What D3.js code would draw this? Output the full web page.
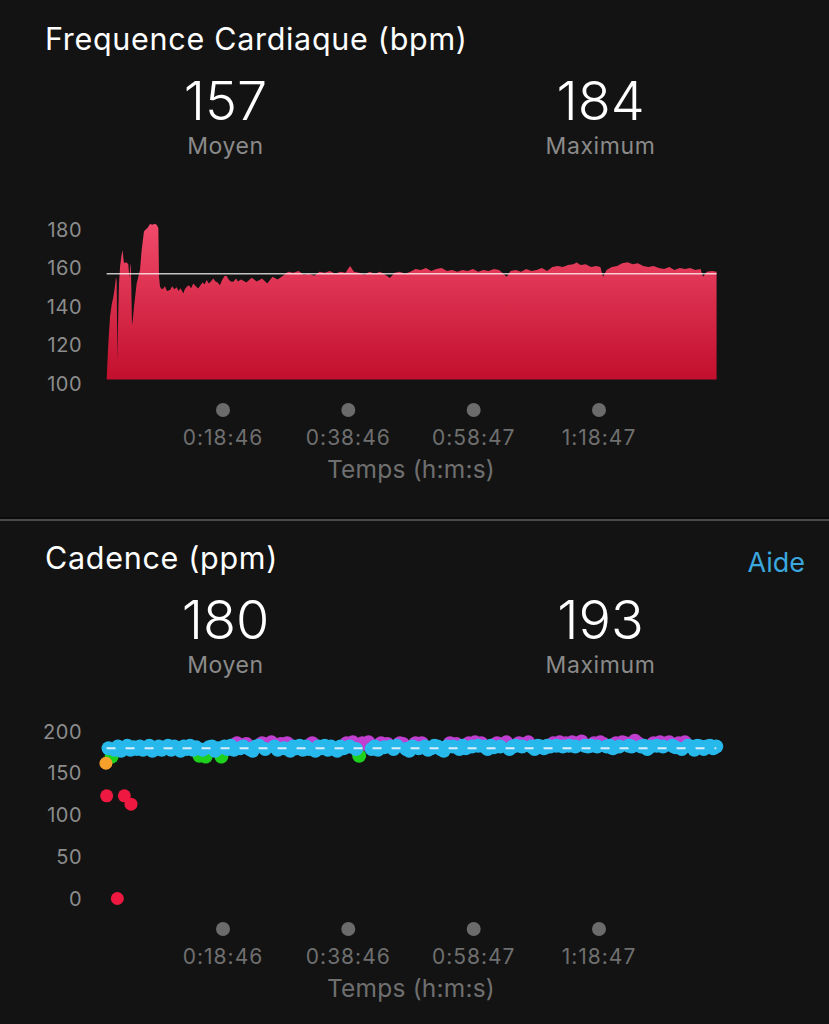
<!DOCTYPE html>
<html><head><meta charset="utf-8">
<script src="https://cdn.jsdelivr.net/npm/d3@7"></script>
<style>html,body{margin:0;padding:0;background:#131313;} svg{display:block;}</style>
</head><body>
<script>
// ---------- DATA ----------
const hrSeconds = [12,20,28,44,60,76,90,101,108,114,120,130,140,152,165,172,178,200,219,229,236,242,248,254,262,274,299,331,347,369,385,401,427,450,470,491,500,507,513,523,
540,554,570,590,618,640,660,683,700,720,746,760,779,800,820,842,865,889,910,930,950,970,990,1010,1033,1055,1075,1097,1115,1140,1161,1180,1200,1225,1250,1270,1289,
1300,1350,1400,1450,1500,1550,1600,1650,1700,1750,1800,1850,1900,1950,2000,2050,2100,2150,2200,2250,2300,2343,2380,2430,2480,2530,2580,2630,2680,2725,2770,2820,2870,2920,2970,3020,3070,3120,3170,3220,3270,3320,3370,3420,3470,3520,3570,3620,3670,3720,3770,3843,3880,3930,3980,4030,4080,4130,4180,4230,4280,4330,4380,4430,4480,4514,4550,4600,4650,4700,4740,4766,4800,4850,4900,4950,5000,5050,5100,5150,5200,5250,5300,5350,5400,5450,5500,5550,5600,5650,5700,5724,5760,5810,5853];
const hrBpm = [101,112,121,134.7,141,145,150,155.3,153,112,130,152,160.7,166,169.4,165,162.6,163,162,154.8,160,162.8,150,130.4,133,140,152,159,169.4,178.9,180,180.6,182.9,182.5,183,182.5,181.5,180.6,155.5,150.3,
149,149.4,150.5,148,148.6,150.5,149,150,148,149.5,146.8,149,150.3,151,149.5,152,150.5,149.4,151,152.5,151.5,153.8,152,153,154.6,153,152.5,151,153.5,155.8,155.8,154,153,152.9,154.5,153,153.8,
154,152.5,155,153,154.5,152,155.5,154,156,158,157.5,158.5,156.5,157,156,158,157.5,158.5,157,158,157.5,161,158,157.5,156.5,158,157,158,156.5,154.8,157.5,158,157,158,159.5,159,160,158.5,159.5,160,158.5,159,158,159,158.5,159.5,158,159,158.5,159.5,159,155.5,158.5,159,158,159.5,158.5,159,160,158.5,160.5,161,160.5,161.5,162,162.8,161.5,162,160.5,161,160.5,155.5,159,160.5,161,162.5,163,162,162.5,161,160.5,161,160,159.5,160.5,159,160,159.5,160,159,159.5,155.5,158,158.5,158];
const hrAverage = 157;
const hrMaximum = 184;
const hrTicks = [100, 120, 140, 160, 180];

const timeTickSeconds = [1126, 2326, 3527, 4727];
const timeTickLabels = ["0:18:46", "0:38:46", "0:58:47", "1:18:47"];

const cadenceSeconds = [30,60,90,120,150,180,210,240,270,300,330,360,390,420,450,480,510,540,570,600,630,660,690,720,750,780,810,840,870,900,930,960,990,1020,1050,1080,1110,1140,1170,1200,1230,1260,1290,1320,1350,1380,1410,1440,1470,1500,1530,1560,1590,1620,1650,1680,1710,1740,1770,1800,1830,1860,1890,1920,1950,1980,2010,2040,2070,2100,2130,2160,2190,2220,2250,2280,2310,2340,2370,2400,2430,2460,2490,2520,2550,2580,2610,2640,2670,2700,2730,2760,2790,2820,2850,2880,2910,2940,2970,3000,3030,3060,3090,3120,3150,3180,3210,3240,3270,3300,3330,3360,3390,3420,3450,3480,3510,3540,3570,3600,3630,3660,3690,3720,3750,3780,3810,3840,3870,3900,3930,3960,3990,4020,4050,4080,4110,4140,4170,4200,4230,4260,4290,4320,4350,4380,4410,4440,4470,4500,4530,4560,4590,4620,4650,4680,4710,4740,4770,4800,4830,4860,4890,4920,4950,4980,5010,5040,5070,5100,5130,5160,5190,5220,5250,5280,5310,5340,5370,5400,5430,5460,5490,5520,5550,5580,5610,5640,5670,5700,5730,5760,5790,5820,5850];
const cadenceValues = [180,170,178,182,177,180,183,178,181,179,
182,178,180,183,177,179,182,178,181,183,
178,182,180,177,182,179,183,178,181,171,
178,170,181,182,177,180,170,182,179,183,
178,186,180,182,185,179,177,182,183,186,
179,185,187,182,178,185,180,186,177,182,
180,183,178,182,179,186,177,182,180,183,
178,182,179,177,182,180,186,182,187,179,
171,186,185,187,179,182,178,186,181,185,
182,179,183,186,185,179,177,182,186,180,
186,182,178,180,183,182,179,177,182,186,
182,185,179,183,180,186,182,187,183,186,
182,179,183,181,186,182,185,187,179,182,
183,186,182,185,187,182,179,183,182,180,
183,182,186,183,187,182,186,183,187,182,
186,188,183,182,183,186,182,187,185,182,
183,180,186,182,187,186,183,182,189,186,
182,183,179,182,186,183,187,182,186,187,
183,181,186,179,187,183,182,178,183,182,
179,182,183,180,182];
const cadenceEarlySeconds = [5, 12, 114, 181, 245];
const cadenceEarlyValues = [162, 123, 0, 123, 113];
const cadenceAverage = 180;
const cadenceMaximum = 193;
const cadenceTicks = [0, 50, 100, 150, 200];

// ---------- DRAW ----------
const W = 829, H = 1024;
const FONT = "Inter, 'Noto Sans', sans-serif";
const svg = d3.select("body").append("svg").attr("width", W).attr("height", H)
  .style("background", "#131313");

const x = d3.scaleLinear().domain([0, 5860]).range([105.43, 717.3]);

function header(g, title, avg, max, aide) {
  g.append("text").attr("x", 45).attr("y", 50).text(title)
    .attr("fill", "#fff").attr("font-family", FONT).attr("font-size", 30.5).attr("letter-spacing", 0.7);
  [[225.5, avg, "Moyen"], [600.5, max, "Maximum"]].forEach(([cx, v, lbl]) => {
    g.append("text").attr("x", cx).attr("y", 120).attr("text-anchor", "middle")
      .attr("fill", "#fff").attr("font-family", FONT).attr("font-size", 54).attr("font-weight", 300).text(v);
    g.append("text").attr("x", cx).attr("y", 154).attr("text-anchor", "middle")
      .attr("fill", "#8a8a8a").attr("font-family", FONT).attr("font-size", 23).attr("letter-spacing", 0.6).text(lbl);
  });
  if (aide) {
    g.append("text").attr("x", 805).attr("y", 53).attr("text-anchor", "end")
      .attr("fill", "#3aa7df").attr("font-family", FONT).attr("font-size", 27).text("Aide");
  }
}

function timeAxis(g) {
  const t = g.selectAll(".tt").data(timeTickSeconds).enter().append("g");
  t.append("circle").attr("cx", d => x(d)).attr("cy", 410).attr("r", 7).attr("fill", "#6b6b6b");
  t.append("text").attr("x", d => x(d)).attr("y", 445).attr("text-anchor", "middle")
    .attr("fill", "#6f6f6f").attr("font-family", FONT).attr("font-size", 21).attr("letter-spacing", 1)
    .text((d, i) => timeTickLabels[i]);
  g.append("text").attr("x", (x(timeTickSeconds[0]) + x(timeTickSeconds[3])) / 2).attr("y", 478)
    .attr("text-anchor", "middle").attr("fill", "#6f6f6f").attr("font-family", FONT)
    .attr("font-size", 24.5).attr("letter-spacing", 0.2).text("Temps (h:m:s)");
}

function yLabels(g, scale, ticks) {
  g.selectAll(".yl").data(ticks).enter().append("text")
    .attr("x", 82).attr("y", d => scale(d)).attr("dy", "0.35em").attr("text-anchor", "end")
    .attr("fill", "#8c8c8c").attr("font-family", FONT).attr("font-size", 20).attr("letter-spacing", 0.5).text(d => d);
}

// ----- Heart rate panel -----
const g1 = svg.append("g");
header(g1, "Frequence Cardiaque (bpm)", hrAverage, hrMaximum, false);
const yHR = d3.scaleLinear().domain([100, 180]).range([383.5, 229.5]);
const plotBottom = 379.5;
yLabels(g1, yHR, hrTicks);

const defs = svg.append("defs");
const grad = defs.append("linearGradient").attr("id", "hrGrad")
  .attr("gradientUnits", "userSpaceOnUse").attr("x1", 0).attr("x2", 0).attr("y1", 222).attr("y2", plotBottom);
grad.append("stop").attr("offset", 0).attr("stop-color", "#f14b6b");
grad.append("stop").attr("offset", 1).attr("stop-color", "#c20f2e");

const hrData = hrSeconds.map((s, i) => ({ s, v: hrBpm[i] }));
const area = d3.area().x(d => x(d.s)).y0(plotBottom).y1(d => Math.min(plotBottom, yHR(d.v)));
g1.append("path").datum(hrData).attr("d", area).attr("fill", "url(#hrGrad)");
g1.append("line").attr("x1", x(hrSeconds[0])).attr("x2", x(hrSeconds[hrSeconds.length - 1]))
  .attr("y1", yHR(hrAverage)).attr("y2", yHR(hrAverage))
  .attr("stroke", "#ffffff").attr("stroke-opacity", 0.75).attr("stroke-width", 1.5);
timeAxis(g1);

// separator
svg.append("line").attr("x1", 0).attr("x2", W).attr("y1", 518).attr("y2", 518).attr("stroke", "#050505").attr("stroke-width", 1);
svg.append("line").attr("x1", 0).attr("x2", W).attr("y1", 520).attr("y2", 520).attr("stroke", "#4a4a4a").attr("stroke-width", 2);

// ----- Cadence panel -----
const g2 = svg.append("g").attr("transform", "translate(0,519)");
header(g2, "Cadence (ppm)", cadenceAverage, cadenceMaximum, true);
const yCad = d3.scaleLinear().domain([0, 200]).range([379.5, 212.5]);
yLabels(g2, yCad, cadenceTicks);

function zoneColor(v) {
  if (v >= 184) return "#c13fd0";
  if (v >= 174) return "#27b8ec";
  if (v >= 164) return "#1fd11f";
  if (v >= 153) return "#f5a02a";
  return "#ee1840";
}
const cad = cadenceSeconds.map((s, i) => ({ s, v: cadenceValues[i] }));
const early = cadenceEarlySeconds.map((s, i) => ({ s, v: cadenceEarlyValues[i] }));
const isBlue = d => d.v >= 174 && d.v < 184;
const R = 7;
g2.selectAll(".cOther").data(cad.filter(d => !isBlue(d))).enter().append("circle")
  .attr("cx", d => x(d.s)).attr("cy", d => yCad(d.v)).attr("r", R).attr("fill", d => zoneColor(d.v));
g2.selectAll(".cBlue").data(cad.filter(isBlue)).enter().append("circle")
  .attr("cx", d => x(d.s)).attr("cy", d => yCad(d.v)).attr("r", R).attr("fill", d => zoneColor(d.v));
g2.selectAll(".cEarly").data(early).enter().append("circle")
  .attr("cx", d => x(d.s)).attr("cy", d => yCad(d.v)).attr("r", 6.5).attr("fill", d => zoneColor(d.v));
g2.append("line").attr("x1", x(cadenceSeconds[0]) - 2).attr("x2", x(cadenceSeconds[cadenceSeconds.length - 1]))
  .attr("y1", yCad(cadenceAverage)).attr("y2", yCad(cadenceAverage))
  .attr("stroke", "#d9eef8").attr("stroke-width", 2).attr("stroke-dasharray", "9,10");
timeAxis(g2);
</script>
</body></html>
